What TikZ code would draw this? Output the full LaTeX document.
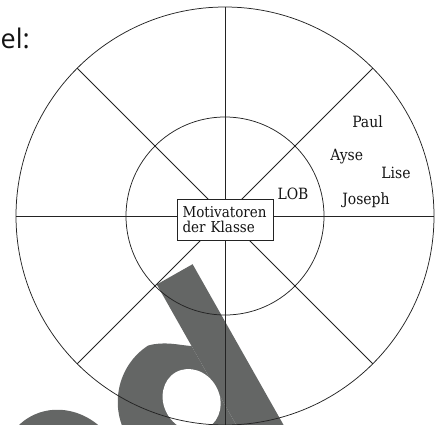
\documentclass[tikz,border=0pt]{standalone}
\usepackage{fontspec}
\setmainfont{DejaVu Serif Condensed}
\newfontfamily\headfont{Open Sans}
\definecolor{wmgray}{RGB}{100,102,101}
\definecolor{linegray}{RGB}{35,35,35}
\definecolor{txtgray}{RGB}{20,20,20}
\begin{document}
\begin{tikzpicture}[x=1pt,y=-1pt,
  ring/.style={draw=linegray, line width=0.75pt},
  spoke/.style={draw=linegray, line width=0.75pt},
  lbl/.style={font=\fontsize{15.5}{15}\selectfont, inner sep=0pt, anchor=base, text=txtgray},
  centerbox/.style={draw=linegray, line width=0.8pt, fill=white, align=left,
    text width=85pt, inner xsep=5.5pt, inner ysep=0pt, minimum height=41pt,
    font=\fontsize{15}{15}\selectfont, text=txtgray},
  headtext/.style={font=\headfont\fontsize{27}{30}\selectfont, anchor=base west, inner sep=0pt, text=txtgray}]
\useasboundingbox (0,0) rectangle (436,425);
% watermark fragment
\begin{scope}[shift={(191,397)}, rotate=29.5]
  \fill[wmgray] (-150pt,-4pt) ellipse [x radius=60pt, y radius=66pt];
  \fill[wmgray] (25.6pt,-90pt) rectangle (66.8pt,114.8pt);
  \fill[wmgray] (25.6pt,44pt) .. controls (14pt,52pt) and (4pt,62pt) .. (-12pt,65.9pt)
     arc [start angle=93.4, end angle=270, x radius=67pt, y radius=68pt]
     .. controls (8pt,-70pt) and (20pt,-60pt) .. (25.6pt,-48pt) -- cycle;
  \fill[white] (-1pt,-3pt) ellipse [x radius=28pt, y radius=32pt];
\end{scope}
% wheel
\coordinate (C) at (225,216);
\foreach \a in {0,45,...,315} \draw[spoke] (C) -- ++(\a:209pt);
\draw[ring] (C) circle[radius=209pt];
\draw[ring] (C) circle[radius=99pt];
\node[centerbox] (mk) at (225,219.5) {Motivatoren\\der Klasse};
% labels
\node[lbl] (paul) at (367.5,127.7) {Paul};
\node[lbl] (ayse) at (346.7,160) {Ayse};
\node[lbl] (lise) at (396,178.3) {Lise};
\node[lbl] (joseph) at (366,204.5) {Joseph};
\node[lbl] (lob) at (293,199.3) {LOB};
\node[headtext] (bsp) at (0.5,49) {el:};
\end{tikzpicture}
\end{document}
